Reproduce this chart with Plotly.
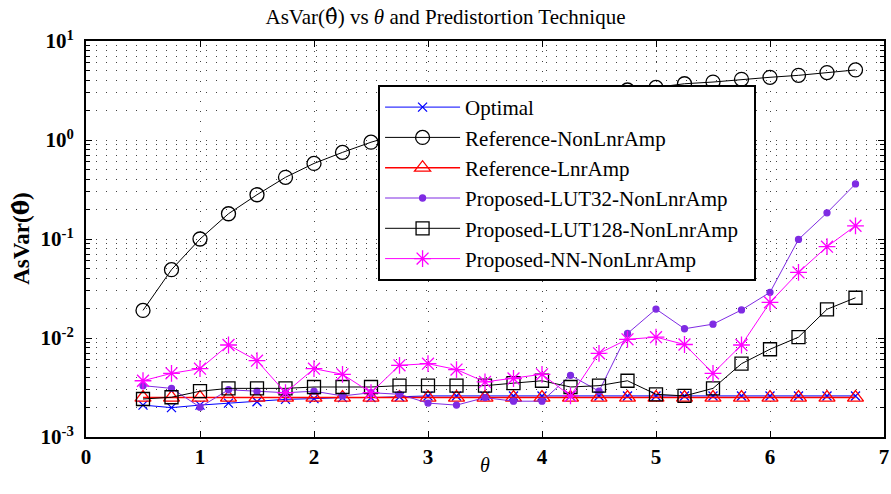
import plotly.graph_objects as go

theta = [0.5, 0.75, 1.0, 1.25, 1.5, 1.75, 2.0, 2.25, 2.5, 2.75, 3.0, 3.25, 3.5,
         3.75, 4.0, 4.25, 4.5, 4.75, 5.0, 5.25, 5.5, 5.75, 6.0, 6.25, 6.5, 6.75]

optimal = [0.0021, 0.00198, 0.0021, 0.0022, 0.00227, 0.0024, 0.00244, 0.0025, 0.0025,
           0.00255, 0.0026, 0.0026, 0.0026, 0.0026, 0.0026, 0.0026, 0.0026, 0.0026,
           0.0026, 0.0026, 0.0026, 0.0026, 0.0026, 0.0026, 0.0026, 0.0026]
ref_nonlnr = [0.019, 0.049, 0.10, 0.18, 0.28, 0.42, 0.58, 0.75, 0.95, 1.15, 1.35, 1.6,
              1.85, 2.1, 2.4, 2.7, 2.95, 3.2, 3.4, 3.7, 3.85, 4.1, 4.3, 4.5, 4.8, 5.1]
ref_lnr = [0.0025] * 26
lut32 = [0.0033, 0.0031, 0.0020, 0.0030, 0.0029, 0.0028, 0.0029, 0.0026, 0.0028, 0.0027,
         0.0022, 0.0021, 0.0025, 0.0023, 0.0023, 0.0042, 0.0029, 0.0111, 0.0196, 0.0124,
         0.0138, 0.0192, 0.0289, 0.099, 0.184, 0.36]
lut128 = [0.00242, 0.00252, 0.0029, 0.0031, 0.0031, 0.0031, 0.0032, 0.0032, 0.0032,
          0.0033, 0.0033, 0.0033, 0.0033, 0.0035, 0.0037, 0.0032, 0.0033, 0.0037, 0.0027,
          0.0026, 0.0031, 0.0055, 0.0077, 0.0102, 0.0195, 0.0255]
nn = [0.0037, 0.0044, 0.0049, 0.0085, 0.0059, 0.0028, 0.0049, 0.0043, 0.0028, 0.0053,
      0.0055, 0.0048, 0.0036, 0.0039, 0.0043, 0.0026, 0.0070, 0.0097, 0.0102, 0.0086,
      0.0044, 0.0085, 0.0229, 0.046, 0.0836, 0.136]

ytick_vals = [0.001, 0.01, 0.1, 1, 10]
ytick_text = ["10<sup>-3</sup>", "10<sup>-2</sup>", "10<sup>-1</sup>",
              "10<sup>0</sup>", "10<sup>1</sup>"]

series = [
    ("Optimal", optimal, "#0000FF", "x-thin-open", 9, 1),
    ("Reference-NonLnrAmp", ref_nonlnr, "#000000", "circle-open", 14, 1),
    ("Reference-LnrAmp", ref_lnr, "#FF0000", "triangle-up-open", 14, 1.5),
    ("Proposed-LUT32-NonLnrAmp", lut32, "#7F2BE3", "circle", 6, 1),
    ("Proposed-LUT128-NonLnrAmp", lut128, "#000000", "square-open", 13, 1),
    ("Proposed-NN-NonLnrAmp", nn, "#FF00FF", "asterisk-open", 14, 1),
]

fig = go.Figure()
for name, vals, color, sym, size, lw in series:
    fig.add_trace(go.Scatter(
        x=theta, y=vals, name=name + "\u00a0\u00a0", mode="lines+markers",
        line=dict(color=color, width=lw),
        marker=dict(symbol=sym, size=size, color=color,
                    line=dict(color=color, width=1.3)),
    ))

serif = "Liberation Serif, Times New Roman, serif"
grid = dict(showgrid=True, gridcolor="#444444", gridwidth=1, griddash="1px,9px")
theta_hat = "<span style='font-family:DejaVu Serif'>θ\u0302</span>"

fig.update_layout(
    width=891, height=494,
    margin=dict(l=86, r=7, t=41, b=57),
    paper_bgcolor="white", plot_bgcolor="white",
    font=dict(family=serif, color="black"),
    title=dict(text="AsVar(" + theta_hat + ") vs <i>θ</i> and Predistortion Technique",
               x=0.5, xanchor="center", y=0.966, yanchor="middle",
               font=dict(size=21, family=serif)),
    legend=dict(x=0.366, y=0.889, xanchor="left", yanchor="top",
                bgcolor="white", bordercolor="black", borderwidth=2,
                font=dict(size=21, family=serif), tracegroupgap=0,
                itemwidth=75),
    annotations=[
        dict(text="<i>θ</i>", xref="paper", yref="paper", x=0.5, y=-0.07,
             xanchor="center", yanchor="middle", showarrow=False,
             font=dict(size=20, family=serif)),
        dict(text="<b>AsVar(" + theta_hat + ")</b>", xref="paper", yref="paper",
             x=-0.083, y=0.5, xanchor="center", yanchor="middle", textangle=-90,
             showarrow=False, font=dict(size=23, family=serif)),
    ],
)
fig.update_xaxes(
    range=[0, 7], dtick=1, ticks="inside", ticklen=6, tickcolor="black",
    showline=True, linecolor="black", linewidth=2, mirror="allticks",
    tickfont=dict(size=21, family=serif, weight="bold"), ticklabeloverflow="allow",
    automargin=False, zeroline=False, **grid,
)
fig.update_yaxes(
    type="log", range=[-3, 1], tickvals=ytick_vals, ticktext=ytick_text,
    ticks="inside", ticklen=6, tickcolor="black", ticklabelstandoff=6,
    showline=True, linecolor="black", linewidth=2, mirror="allticks",
    tickfont=dict(size=21, family=serif, weight="bold"),
    minor=dict(dtick="D1", ticks="inside", ticklen=4, tickcolor="black",
               showgrid=True, gridcolor="#444444", griddash="1px,9px"),
    automargin=False, zeroline=False, **grid,
)

# drop the default page margin so the 891x494 figure fills the window exactly
fig.write_html("out.html", config={"displayModeBar": False},
               post_script="document.body.style.margin = '0';")
